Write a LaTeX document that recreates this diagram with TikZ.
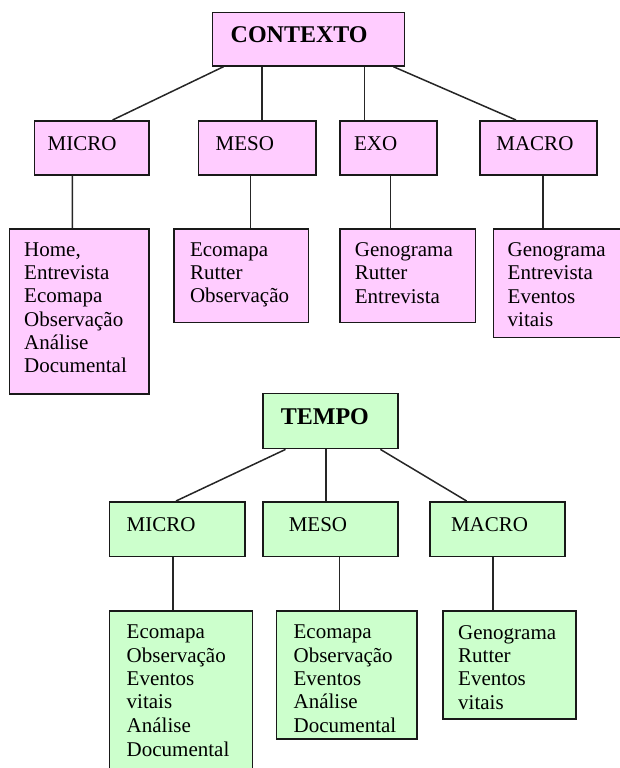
\documentclass[tikz,border=0pt]{standalone}
\usepackage{fontspec}
\setmainfont{Liberation Serif}
\usetikzlibrary{calc}
\definecolor{pinkfill}{HTML}{FFCCFF}
\definecolor{greenfill}{HTML}{CCFFCC}
\tikzset{
 box/.style={draw=black!90, line width=1.7pt, inner sep=0pt, anchor=north west},
 pbox/.style={box, fill=pinkfill},
 gbox/.style={box, fill=greenfill},
 txt/.style={anchor=north west, inner sep=0pt, align=left, font=\fontsize{21}{23.3}\selectfont},
 ttl/.style={anchor=north west, inner sep=0pt, font=\fontsize{24}{28}\selectfont\bfseries},
 link/.style={line width=1.5pt, draw=black!85},
}
\begin{document}
\begin{tikzpicture}[x=1pt,y=-1pt]
\useasboundingbox (0,0) rectangle (620,768);
% ---------- CONTEXTO ----------
\node[pbox, minimum width=192pt, minimum height=53.3pt] (ctx) at (211.5,11.7) {};
\node[pbox, minimum width=114.7pt, minimum height=54pt] (c1) at (33.6,120) {};
\node[pbox, minimum width=117.4pt, minimum height=54pt] (c2) at (197.7,120) {};
\node[pbox, minimum width=96.8pt, minimum height=54pt] (c3) at (339.3,120) {};
\node[pbox, minimum width=117.1pt, minimum height=54pt] (c4) at (479.2,120) {};
\node[pbox, minimum width=139.6pt, minimum height=165pt] (d1) at (8.7,228.3) {};
\node[pbox, minimum width=134.8pt, minimum height=93.4pt] (d2) at (172.8,228.3) {};
\node[pbox, minimum width=135.2pt, minimum height=93.4pt] (d3) at (339.3,228.3) {};
\node[pbox, minimum width=127pt, minimum height=108.4pt] (d4) at (492.5,228.3) {};

\node[ttl] (ctxt) at ($(ctx.north west)+(19,14.5)$) {CONTEXTO};
\node[txt] (c1t) at ($(c1.north west)+(13.8,16)$) {MICRO};
\node[txt] (c2t) at ($(c2.north west)+(17.8,16)$) {MESO};
\node[txt] (c3t) at ($(c3.north west)+(14.6,16)$) {EXO};
\node[txt] (c4t) at ($(c4.north west)+(17,16)$) {MACRO};
\node[txt] (d1t) at ($(d1.north west)+(15.3,14)$) {Home,\\Entrevista\\Ecomapa\\Observação\\Análise\\Documental};
\node[txt] (d2t) at ($(d2.north west)+(17,14)$) {Ecomapa\\Rutter\\Observação};
\node[txt] (d3t) at ($(d3.north west)+(15.4,14)$) {Genograma\\Rutter\\Entrevista};
\node[txt] (d4t) at ($(d4.north west)+(15,14)$) {Genograma\\Entrevista\\Eventos\\vitais};

\draw[link] ($(ctx.south west)+(12,0)$) -- ($(c1.north west)+(79,0)$);
\draw[link] ($(ctx.south west)+(50.3,0)$) -- ($(c2.north west)+(64.1,0)$);
\draw[link] ($(ctx.south west)+(153.1,0)$) -- ($(c3.north west)+(25.3,0)$);
\draw[link] ($(ctx.south west)+(181.9,0)$) -- ($(c4.north west)+(36.8,0)$);
\draw[link] ($(c1.south west)+(38.8,0)$) -- ($(d1.north west)+(63.7,0)$);
\draw[link] ($(c2.south west)+(52.6,0)$) -- ($(d2.north west)+(77.5,0)$);
\draw[link] ($(c3.south west)+(51,0)$) -- ($(d3.north west)+(51,0)$);
\draw[link] ($(c4.south west)+(63.8,0)$) -- ($(d4.north west)+(50.5,0)$);

% ---------- TEMPO ----------
\node[gbox, minimum width=135.6pt, minimum height=55pt] (tmp) at (261.8,392.7) {};
\node[gbox, minimum width=135.3pt, minimum height=54.7pt] (t1) at (108.7,501) {};
\node[gbox, minimum width=135.6pt, minimum height=54.7pt] (t2) at (261.8,501) {};
\node[gbox, minimum width=135.3pt, minimum height=54.7pt] (t3) at (429,501) {};
\node[gbox, minimum width=143pt, minimum height=165pt] (u1) at (108.5,610) {};
\node[gbox, minimum width=140.4pt, minimum height=128.3pt] (u2) at (275.6,610) {};
\node[gbox, minimum width=133.3pt, minimum height=108.3pt] (u3) at (442,610) {};

\node[ttl] (tmpt) at ($(tmp.north west)+(18.9,15.3)$) {TEMPO};
\node[txt] (t1t) at ($(t1.north west)+(17.8,16)$) {MICRO};
\node[txt] (t2t) at ($(t2.north west)+(26.8,16)$) {MESO};
\node[txt] (t3t) at ($(t3.north west)+(21.8,16)$) {MACRO};
\node[txt] (u1t) at ($(u1.north west)+(18,15)$) {Ecomapa\\Observação\\Eventos\\vitais\\Análise\\[1.5pt]Documental};
\node[txt] (u2t) at ($(u2.north west)+(17.8,15)$) {Ecomapa\\Observação\\Eventos\\Análise\\Documental};
\node[txt] (u3t) at ($(u3.north west)+(16,15)$) {Genograma\\Rutter\\Eventos\\vitais};

\draw[link] ($(tmp.south west)+(23.7,0)$) -- ($(t1.north west)+(67.3,0)$);
\draw[link] ($(tmp.south west)+(64.4,0)$) -- ($(t2.north west)+(64.4,0)$);
\draw[link] ($(tmp.south west)+(118.6,0)$) -- ($(t3.north west)+(37.6,0)$);
\draw[link] ($(t1.south west)+(64.1,0)$) -- ($(u1.north west)+(64.3,0)$);
\draw[link] ($(t2.south west)+(77.5,0)$) -- ($(u2.north west)+(63.7,0)$);
\draw[link] ($(t3.south west)+(64,0)$) -- ($(u3.north west)+(51,0)$);
\end{tikzpicture}
\end{document}
